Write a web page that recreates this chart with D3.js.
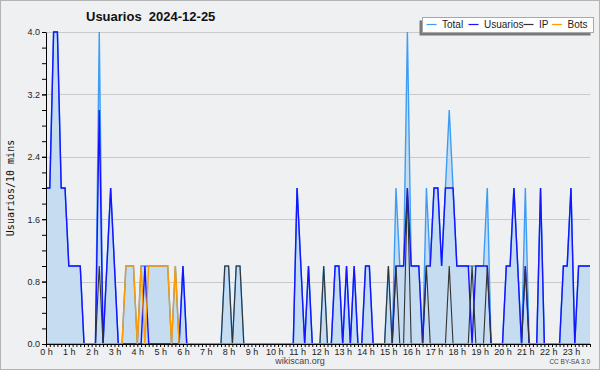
<!DOCTYPE html>
<html>
<head>
<meta charset="utf-8">
<script src="https://d3js.org/d3.v7.min.js"></script>
<style>
  body { margin: 0; background: #eff0f1; }
  svg { display: block; }
</style>
</head>
<body>
<div id="chart"></div>
<script>
"use strict";

// one value per 10 minutes, 0:00 -> 23:50 (12 values = 2 hours per row)
const usuarios = [
  2, 2, 4, 4, 2, 2, 1, 1, 1, 1, 0, 0,
  0, 0, 3, 0, 1, 2, 1, 0, 0, 0, 0, 0,
  0, 0, 1, 0, 0, 0, 0, 0, 0, 0, 0, 0,
  1, 0, 0, 0, 0, 0, 0, 0, 0, 0, 0, 0,
  0, 0, 0, 0, 0, 0, 0, 0, 0, 0, 0, 0,
  0, 0, 0, 0, 0, 0, 2, 1, 0, 1, 0, 0,
  0, 0, 0, 0, 1, 1, 0, 1, 0, 1, 0, 0,
  1, 1, 0, 0, 0, 0, 0, 0, 1, 1, 1, 2,
  1, 1, 1, 0, 1, 1, 2, 2, 1, 2, 2, 2,
  1, 1, 1, 1, 0, 1, 1, 1, 1, 0, 0, 0,
  0, 1, 1, 2, 1, 0, 1, 0, 0, 0, 2, 0,
  0, 0, 0, 0, 1, 1, 2, 0, 1, 1, 1, 1
];

const ip = [
  0, 0, 0, 0, 0, 0, 0, 0, 0, 0, 0, 0,
  0, 0, 1, 0, 0, 0, 0, 0, 0, 0, 0, 0,
  0, 0, 0, 0, 0, 0, 0, 0, 0, 0, 0, 0,
  0, 0, 0, 0, 0, 0, 0, 0, 0, 0, 0, 1,
  1, 0, 1, 1, 0, 0, 0, 0, 0, 0, 0, 0,
  0, 0, 0, 0, 0, 0, 0, 0, 0, 0, 0, 0,
  0, 1, 0, 0, 0, 0, 0, 0, 0, 0, 0, 0,
  0, 0, 0, 0, 0, 0, 1, 0, 1, 0, 0, 2,
  0, 0, 0, 0, 1, 0, 0, 0, 0, 0, 1, 0,
  0, 0, 0, 0, 1, 0, 0, 0, 1, 0, 0, 0,
  0, 0, 0, 0, 0, 0, 1, 0, 0, 0, 0, 0,
  0, 0, 0, 0, 0, 0, 0, 0, 0, 0, 0, 0
];

const bots = [
  0, 0, 0, 0, 0, 0, 0, 0, 0, 0, 0, 0,
  0, 0, 0, 0, 0, 0, 0, 0, 0, 1, 1, 1,
  0, 1, 0, 1, 1, 1, 1, 1, 1, 0, 1, 0,
  0, 0, 0, 0, 0, 0, 0, 0, 0, 0, 0, 0,
  0, 0, 0, 0, 0, 0, 0, 0, 0, 0, 0, 0,
  0, 0, 0, 0, 0, 0, 0, 0, 0, 0, 0, 0,
  0, 0, 0, 0, 0, 0, 0, 0, 0, 0, 0, 0,
  0, 0, 0, 0, 0, 0, 0, 0, 0, 0, 0, 0,
  0, 0, 0, 0, 0, 0, 0, 0, 0, 0, 0, 0,
  0, 0, 0, 0, 0, 0, 0, 0, 0, 0, 0, 0,
  0, 0, 0, 0, 0, 0, 0, 0, 0, 0, 0, 0,
  0, 0, 0, 0, 0, 0, 0, 0, 0, 0, 0, 0
];

const total = [
  2, 2, 4, 4, 2, 2, 1, 1, 1, 1, 0, 0,
  0, 0, 4, 0, 1, 2, 1, 0, 0, 1, 1, 1,
  0, 1, 1, 1, 1, 1, 1, 1, 1, 0, 1, 0,
  1, 0, 0, 0, 0, 0, 0, 0, 0, 0, 0, 1,
  1, 0, 1, 1, 0, 0, 0, 0, 0, 0, 0, 0,
  0, 0, 0, 0, 0, 0, 2, 1, 0, 1, 0, 0,
  0, 1, 0, 0, 1, 1, 0, 1, 0, 1, 0, 0,
  1, 1, 0, 0, 0, 0, 1, 0, 2, 1, 1, 4,
  1, 1, 1, 0, 2, 1, 2, 2, 1, 2, 3, 2,
  1, 1, 1, 1, 1, 1, 1, 1, 2, 0, 0, 0,
  0, 1, 1, 2, 1, 0, 2, 0, 0, 0, 2, 0,
  0, 0, 0, 0, 1, 1, 2, 0, 1, 1, 1, 1
];

const hourLabels = ["0 h", "1 h", "2 h", "3 h", "4 h", "5 h", "6 h", "7 h",
  "8 h", "9 h", "10 h", "11 h", "12 h", "13 h", "14 h", "15 h", "16 h",
  "17 h", "18 h", "19 h", "20 h", "21 h", "22 h", "23 h"];
const yTicks = [0, 0.8, 1.6, 2.4, 3.2, 4.0];
const seriesNames = ["Total", "Usuarios", "IP", "Bots"];

const colors = {
  Total: "#3d9df5",
  Usuarios: "#1414ff",
  IP: "#333333",
  Bots: "#ff9a00"
};
const widths = { Total: 1.4, Usuarios: 1.4, IP: 1.1, Bots: 1.4 };
const seriesValues = { Total: total, Usuarios: usuarios, IP: ip, Bots: bots };

const width = 600;
const height = 370;
const margin = { top: 32, right: 10, bottom: 26, left: 46 };

const svg = d3.select("#chart")
  .append("svg")
  .attr("width", width)
  .attr("height", height)
  .style("font-family", "'Liberation Sans', Arial, sans-serif");

svg.append("rect")
  .attr("x", 0.5).attr("y", 0.5)
  .attr("width", width - 1).attr("height", height - 1)
  .attr("fill", "#eff0f1")
  .attr("stroke", "#b4b4b4");

const x = d3.scaleLinear()
  .domain([0, total.length - 1])
  .range([margin.left, width - margin.right]);

const y = d3.scaleLinear()
  .domain([0, 4])
  .range([height - margin.bottom, margin.top]);

// grid
svg.append("g")
  .selectAll("line")
  .data(yTicks.filter(d => d > 0))
  .join("line")
  .attr("x1", x(0))
  .attr("x2", x(total.length - 1))
  .attr("y1", d => Math.round(y(d)) + 0.5)
  .attr("y2", d => Math.round(y(d)) + 0.5)
  .attr("stroke", "#cacaca");

// filled area under the total
const area = d3.area()
  .x((d, i) => x(i))
  .y0(y(0))
  .y1(d => y(d));

svg.append("path")
  .datum(total)
  .attr("d", area)
  .attr("fill", "#c6dcf0");

const line = d3.line()
  .x((d, i) => x(i))
  .y(d => y(d));

seriesNames.forEach(name => {
  svg.append("path")
    .datum(seriesValues[name])
    .attr("d", line)
    .attr("fill", "none")
    .attr("stroke", colors[name])
    .attr("stroke-width", widths[name])
    .attr("stroke-linejoin", "miter");
});

// x axis, a tick every 10 minutes, label every hour
const xAxis = d3.axisBottom(x)
  .tickValues(d3.range(total.length))
  .tickSize(3)
  .tickSizeOuter(0)
  .tickPadding(2)
  .tickFormat(i => i % 6 === 0 ? hourLabels[i / 6] : "");

svg.append("g")
  .attr("transform", `translate(0,${y(0)})`)
  .call(xAxis)
  .call(g => g.selectAll("text")
    .style("font-family", "'Liberation Sans', Arial, sans-serif")
    .style("font-size", "9px")
    .attr("fill", "#222"));

// y axis: minor ticks every 0.2, labels on the grid values
svg.append("g")
  .attr("transform", `translate(${x(0)},0)`)
  .call(d3.axisLeft(y)
    .tickValues(d3.range(0, 21).map(k => k / 5))
    .tickSize(4)
    .tickSizeOuter(0)
    .tickFormat(""));

svg.append("g")
  .attr("transform", `translate(${x(0)},0)`)
  .call(d3.axisLeft(y)
    .tickValues(yTicks)
    .tickSize(4)
    .tickSizeOuter(0)
    .tickPadding(2)
    .tickFormat(d3.format(".1f")))
  .call(g => g.select(".domain").remove())
  .call(g => g.selectAll("text")
    .style("font-family", "'Liberation Sans', Arial, sans-serif")
    .style("font-size", "9px")
    .attr("fill", "#222"));

svg.append("text")
  .attr("transform", `translate(14,${(y(0) + y(4)) / 2}) rotate(-90)`)
  .attr("text-anchor", "middle")
  .style("font-family", "'DejaVu Sans Mono', monospace")
  .style("font-size", "10px")
  .attr("fill", "#111")
  .text("Usuarios/10 mins");

// title
svg.append("text")
  .attr("x", 86)
  .attr("y", 21)
  .style("font-size", "13px")
  .style("font-weight", "bold")
  .attr("fill", "#111")
  .attr("xml:space", "preserve")
  .text("Usuarios  2024-12-25");

// legend with a drop shadow
const legendBox = { x: 422.5, y: 17.5, w: 171, h: 15 };
svg.append("rect")
  .attr("x", legendBox.x - 3).attr("y", legendBox.y + 3)
  .attr("width", legendBox.w).attr("height", legendBox.h)
  .attr("fill", "#7a7a7a");
svg.append("rect")
  .attr("x", legendBox.x).attr("y", legendBox.y)
  .attr("width", legendBox.w).attr("height", legendBox.h)
  .attr("fill", "#ffffff")
  .attr("stroke", "#a8a8a8");

const legendX = [426.5, 468.5, 523.5, 552];
const legend = svg.append("g")
  .selectAll("g")
  .data(seriesNames)
  .join("g")
  .attr("transform", (d, i) => `translate(${legendX[i]},${legendBox.y + 7})`);

legend.append("line")
  .attr("x1", 0).attr("x2", 10)
  .attr("stroke", d => colors[d])
  .attr("stroke-width", 1.2);

legend.append("text")
  .attr("x", 15.5)
  .attr("y", 3.6)
  .style("font-size", "10px")
  .attr("fill", "#222")
  .text(d => d);

// footer
svg.append("text")
  .attr("x", 300)
  .attr("y", 364)
  .attr("text-anchor", "middle")
  .style("font-size", "9px")
  .attr("fill", "#444")
  .text("wikiscan.org");

svg.append("text")
  .attr("x", 590)
  .attr("y", 364)
  .attr("text-anchor", "end")
  .style("font-size", "6.5px")
  .attr("fill", "#444")
  .text("CC BY-SA 3.0");
</script>
</body>
</html>
